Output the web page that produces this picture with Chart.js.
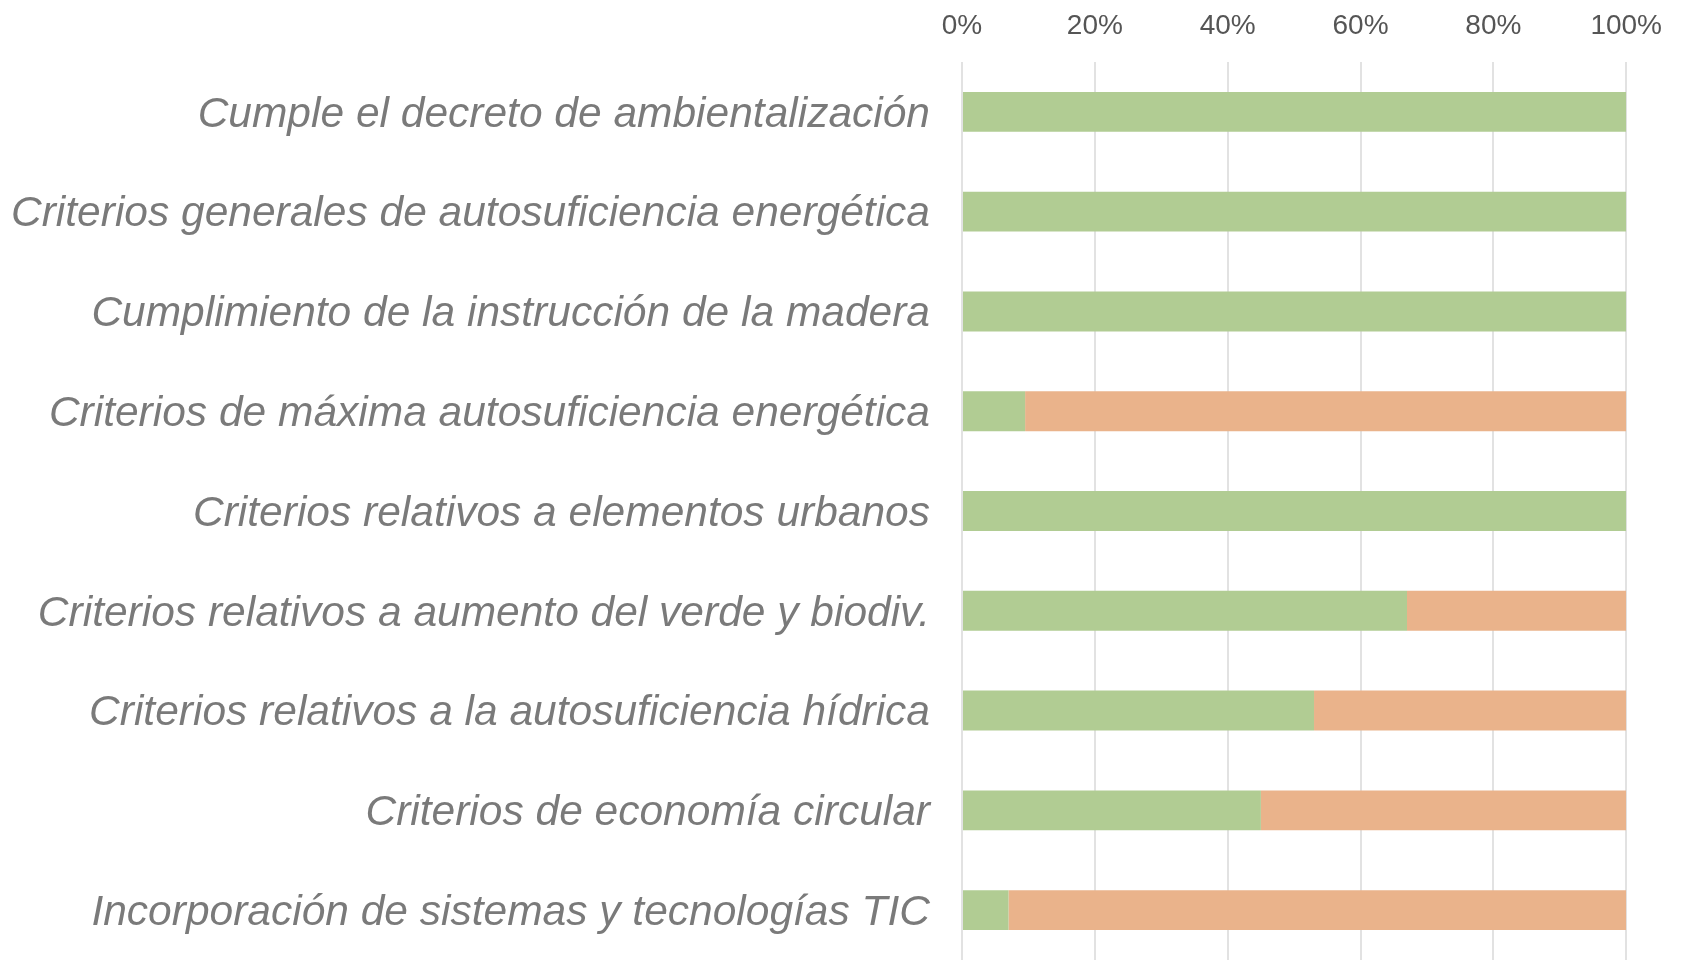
<!DOCTYPE html>
<html>
<head>
<meta charset="utf-8">
<script src="https://cdn.jsdelivr.net/npm/chart.js@4/dist/chart.umd.min.js"></script>
<style>
    html, body { margin: 0; padding: 0; background: #fff; overflow: hidden; }
    #wrap { width: 1681px; height: 969px; }
</style>
</head>
<body>
<div id="wrap"><canvas id="chart"></canvas></div>
<script>
const categories = [
    'Cumple el decreto de ambientalización',
    'Criterios generales de autosuficiencia energética',
    'Cumplimiento de la instrucción de la madera',
    'Criterios de máxima autosuficiencia energética',
    'Criterios relativos a elementos urbanos',
    'Criterios relativos a aumento del verde y biodiv.',
    'Criterios relativos a la autosuficiencia hídrica',
    'Criterios de economía circular',
    'Incorporación de sistemas y tecnologías TIC'
];
const cumple = [100, 100, 100, 9.5, 100, 67, 53, 45, 7];
const noCumple = [0, 0, 0, 90.5, 0, 33, 47, 55, 93];
const xTicks = [0, 20, 40, 60, 80, 100];

const green = '#b1cc93';
const orange = '#eab38b';

new Chart(document.getElementById('chart'), {
    type: 'bar',
    data: {
        labels: categories,
        datasets: [
            { label: 'Cumple', data: cumple, backgroundColor: green, barPercentage: 0.4, categoryPercentage: 1 },
            { label: 'No cumple', data: noCumple, backgroundColor: orange, barPercentage: 0.4, categoryPercentage: 1 }
        ]
    },
    options: {
        indexAxis: 'y',
        responsive: true,
        maintainAspectRatio: false,
        animation: false,
        layout: { padding: { top: 0, right: 52, bottom: 9, left: 0 } },
        plugins: {
            legend: { display: false },
            tooltip: { enabled: false }
        },
        scales: {
            x: {
                position: 'top',
                stacked: true,
                min: 0,
                max: 100,
                afterBuildTicks: (axis) => { axis.ticks = xTicks.map(v => ({ value: v })); },
                afterFit: (scale) => { scale.height = 62; },
                grid: { color: '#e2e2e2', lineWidth: 2, drawTicks: false },
                border: { display: false },
                ticks: {
                    padding: 19,
                    color: '#555',
                    font: { family: 'Liberation Sans', size: 28 },
                    callback: (v) => v + '%'
                }
            },
            y: {
                stacked: true,
                grid: { display: false, drawTicks: false },
                border: { display: false },
                afterFit: (scale) => {
                    scale.width = 962;
                    scale.paddingTop = 0;
                    scale.paddingBottom = 0;
                },
                ticks: {
                    padding: 32,
                    labelOffset: 3,
                    color: '#7a7a7a',
                    font: { family: 'Liberation Sans', size: 42.5, style: 'italic' }
                }
            }
        }
    }
});
</script>
</body>
</html>
